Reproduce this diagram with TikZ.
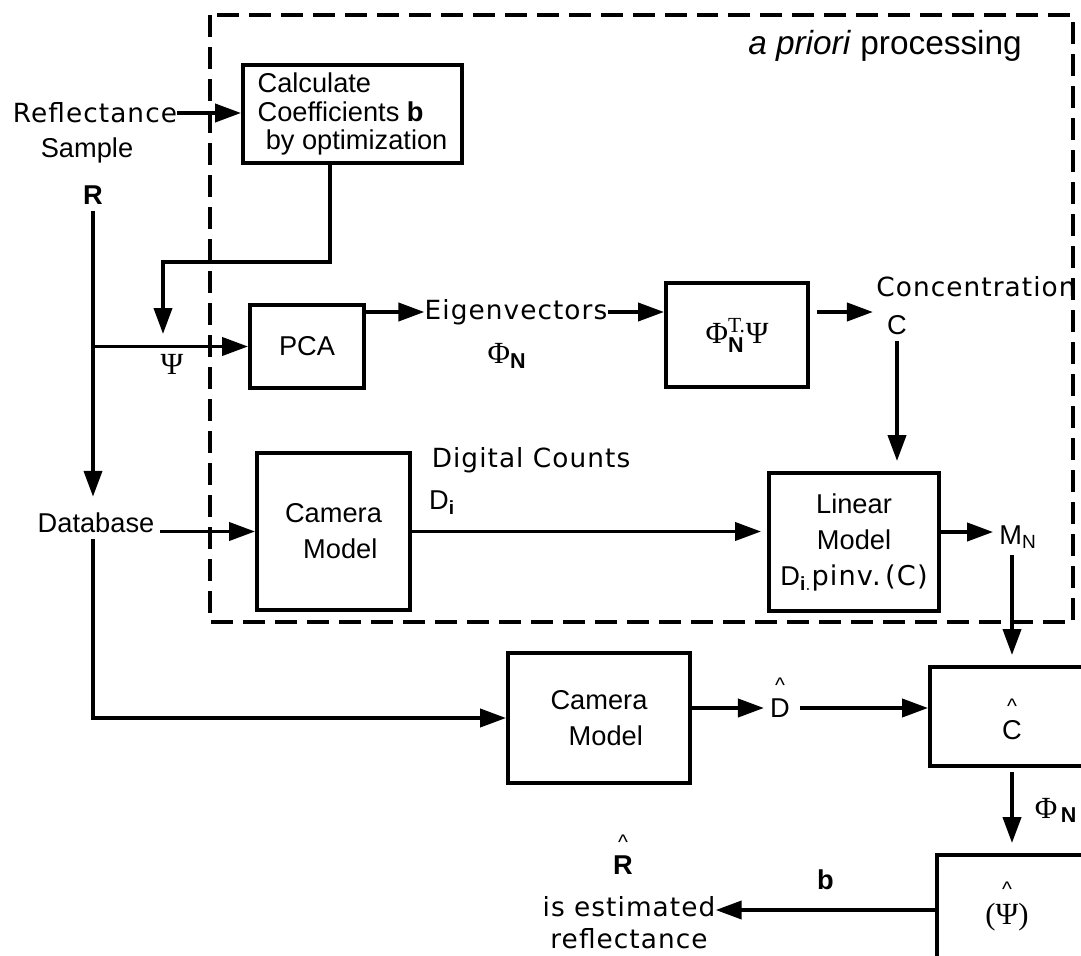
\documentclass[tikz,border=0pt]{standalone}
\usepackage{amsmath}
\usepackage[no-math]{fontspec}
\setmainfont{Liberation Sans}
\newfontfamily\spaced[LetterSpace=4]{DejaVu Sans}
\newfontfamily\greek{Liberation Serif}
\usetikzlibrary{positioning,calc,arrows.meta}

\begin{document}
\begin{tikzpicture}[
    x=0.02cm, y=-0.02cm,
    block/.style={draw, line width=2.2pt, inner sep=0pt, align=center, font=\fontsize{15.5}{20.5}\selectfont},
    txt/.style={font=\fontsize{15.5}{18}\selectfont},
    wide/.style={font=\spaced\fontsize{15}{18}\selectfont},
    caret/.style={inner sep=0pt, font=\fontsize{12}{12}\selectfont},
    flow/.style={draw, line width=2.2pt, -{Triangle[length=0.52cm, width=0.36cm]}}
]
\useasboundingbox (0,0) rectangle (1081,956);

% Define a priori region
\draw[line width=2.2pt, dash pattern=on 0.44cm off 0.2cm] (210,15) rectangle (1073,622);
\node[txt, inner sep=0pt] (apriori) at (885,46) {\fontsize{19}{22}\selectfont\textit{a priori} processing};

% Define blocks
\node[block, minimum width=4.38cm, minimum height=1.96cm, align=left, font=\fontsize{15.5}{16}\selectfont] (calc) at (352.5,114) {Calculate\\Coefficients \textbf{b}\\\hspace*{0.3em}by optimization};
\node[block, minimum width=2.28cm, minimum height=1.66cm] (pca) at (307,346.5) {PCA};
\node[block, minimum width=2.84cm, minimum height=2.08cm, font=\fontsize{17.5}{20}\selectfont] (phit) at (737,335) {{\greek Φ}$^{\text{\greek T.}}_{\textbf{N}}${\greek Ψ}};
\node[block, minimum width=3.06cm, minimum height=3.14cm] (cam1) at (333.5,531.5) {Camera\\\hspace*{0.5em}Model};
\node[block, minimum width=3.4cm, minimum height=2.76cm] (lin) at (854,542) {Linear\\Model\\D$_{\textbf{i}.}${\spaced pinv.\,(C)}};
\node[block, minimum width=3.64cm, minimum height=2.6cm] (cam2) at (599,718) {Camera\\\hspace*{0.5em}Model};
\node[block, minimum width=3.28cm, minimum height=1.98cm] (chat) at (1012,716.5) {};
\node[block, minimum width=2.96cm, minimum height=2.7cm] (psihat) at (1011,922.5) {};

% Add signal labels
\node[wide, inner sep=0pt] (refl) at (95,113) {Reflectance};
\node[txt] (sample) at (87,150) {Sample};
\node[txt] (R) at (93,195) {\textbf{R}};
\node[txt] (db) at (96,523) {Database};
\node[txt, font=\greek\fontsize{17.5}{20}\selectfont] (psi) at (172,364) {Ψ};
\node[wide, inner sep=0pt] (eigen) at (516,312) {Eigenvectors};
\node[txt, font=\fontsize{17.5}{20}\selectfont] (phin) at (507,356) {{\greek Φ}$_{\textbf{N}}$};
\node[wide, inner sep=0pt] (conc) at (976,287) {Concentration};
\node[txt] (C) at (897,325) {C};
\node[wide] (digital) at (531,460) {Digital Counts};
\node[txt] (di) at (442,503) {D$_{\textbf{i}}$};
\node[txt] (M) at (1018,537) {M$_{\text{N}}$};
\node[txt] (dhat) at (780,708) {D};
\node[caret, above=0cm of dhat] {\textasciicircum};
\node[txt] (chatC) at (1012,730) {C};
\node[caret, above=0cm of chatC] {\textasciicircum};
\node[txt, font=\greek\fontsize{17.5}{20}\selectfont] (psitxt) at (1007,917) {(Ψ)};
\node[caret, above=0cm of psitxt] {\textasciicircum};
\node[txt] (Rhat) at (623,865) {\textbf{R}};
\node[caret, above=0cm of Rhat] {\textasciicircum};
\node[wide, align=center, inner sep=0pt, font=\spaced\fontsize{15}{18.1}\selectfont] (est) at (629,923) {is estimated\\reflectance};

% Draw connectors
\coordinate (psiin) at (163,334);
\draw[flow] (refl.east) -- (refl.east -| calc.west);
\draw[flow] ([xshift=-0.45cm]calc.south) -- ++(0,97) -| (psiin);
\draw[flow, shorten >=0.2cm] (R.south) -- (db.north -| R.south);
\draw[flow] (R.south |- pca.west) -- (pca.west);
\draw[flow] (db.south -| R.south) |- (cam2.west);
\draw[flow] (db.east |- cam1.west) -- (cam1.west);
\draw[flow] (pca.east |- eigen.west) -- (eigen.west);
\draw[flow] (eigen.east) -- (eigen.east -| phit.west);
\draw[flow, shorten <=0.14cm, shorten >=0.16cm] (phit.east |- eigen.east) -- (eigen.east -| C.west);
\draw[flow, shorten >=0.2cm] (C.south) -- (C.south |- lin.north);
\draw[flow, shorten >=0.12cm] (cam1.east) -- (cam1.east -| lin.west);
\coordinate (lout) at ([yshift=0.2cm]lin.east);
\draw[flow] (lout) -- (lout -| M.west);
\draw[flow, shorten >=0.2cm] (M.south -| chat.north) -- (chat.north);
\draw[flow] (cam2.east |- dhat.west) -- (dhat.west);
\draw[flow, shorten <=0.08cm] (dhat.east) -- (dhat.east -| chat.west);
\draw[flow, shorten <=0.08cm, shorten >=0.2cm] (chat.south) -- (psihat.north -| chat.south) node[midway, right=0.3cm, txt, font=\fontsize{17.5}{20}\selectfont] {{\greek Φ}$_{\,\textbf{N}}$};
\coordinate (bin) at ([yshift=0.25cm]psihat.west);
\draw[flow] (bin) -- (bin -| est.east) node[midway, above=0.25cm, txt] {\textbf{b}};

\end{tikzpicture}
\end{document}
